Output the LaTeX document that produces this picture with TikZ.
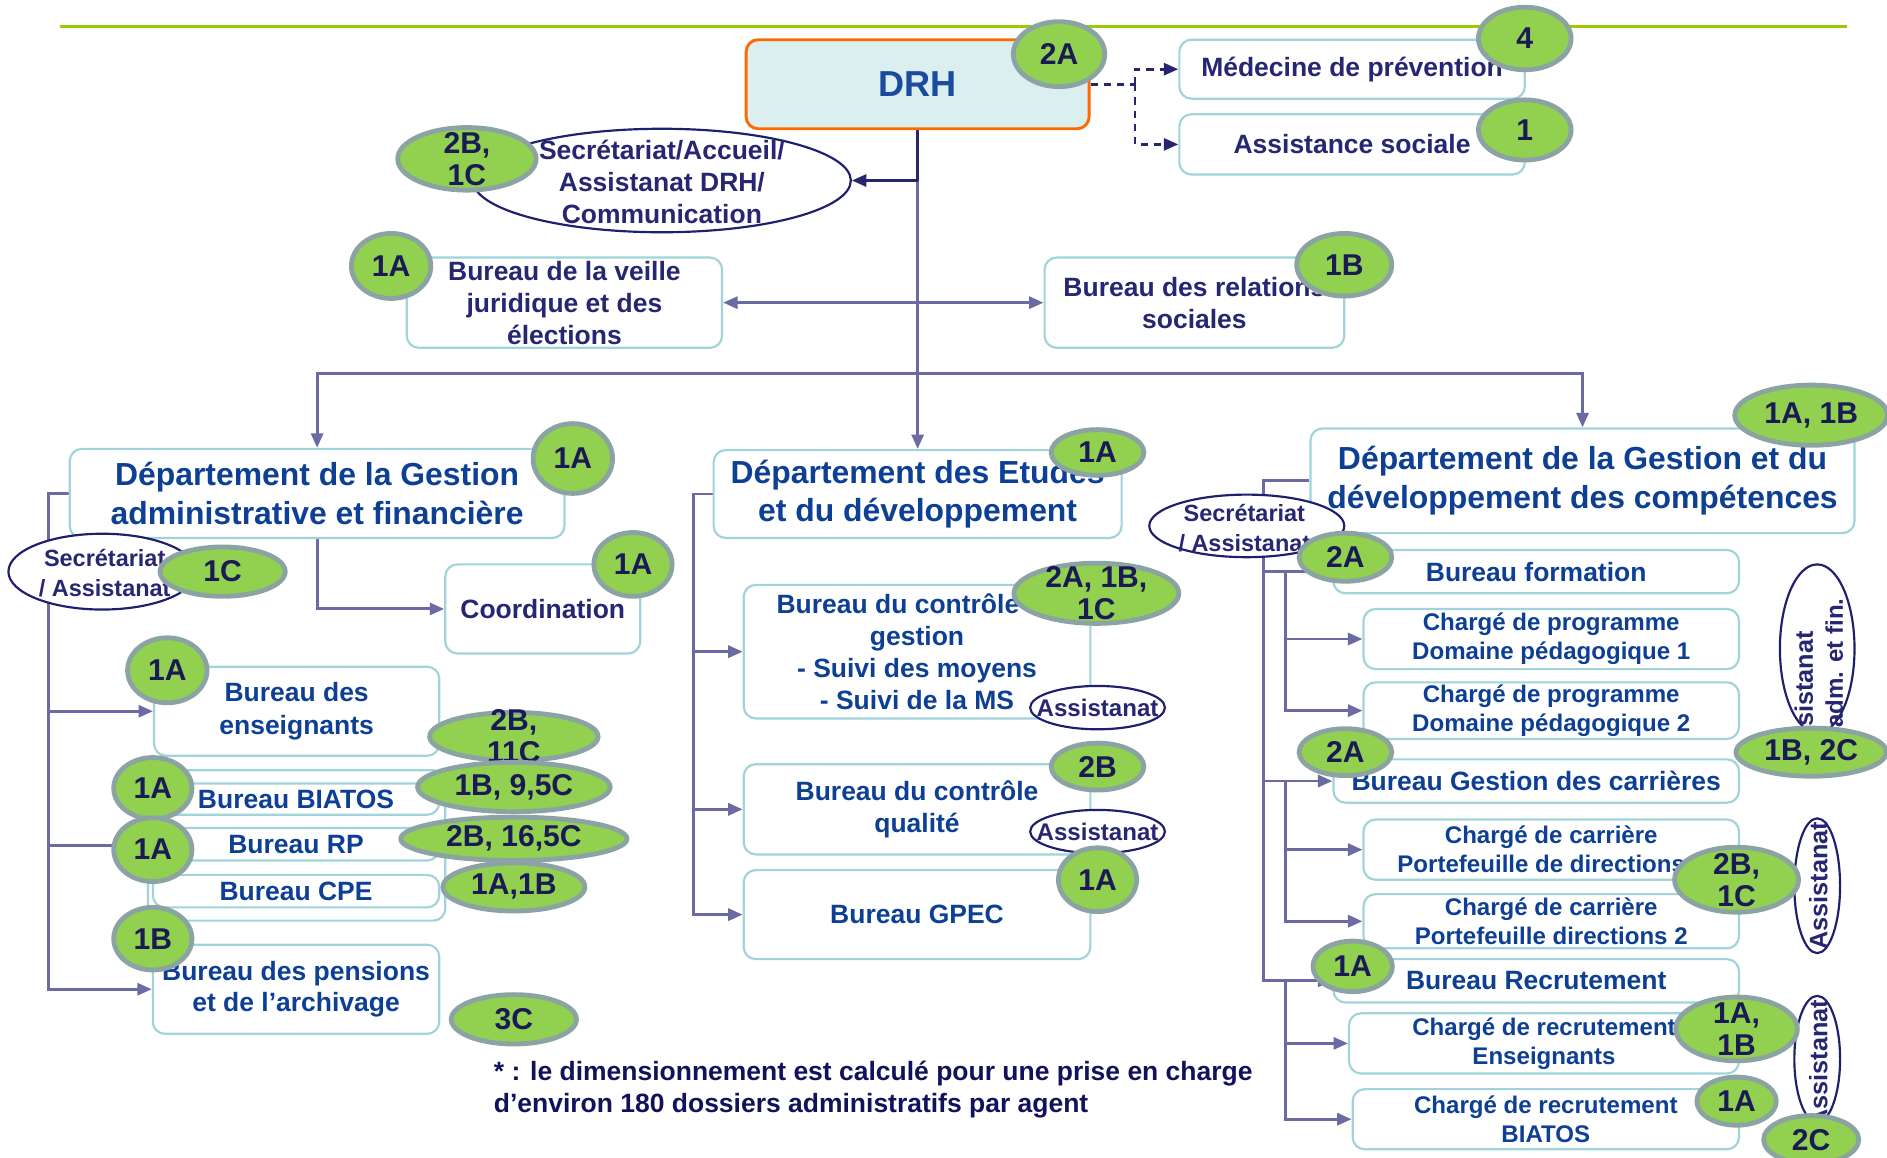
\documentclass[tikz,border=0pt]{standalone}
\usepackage{fontspec}
\setmainfont{Liberation Sans}
\usetikzlibrary{shapes.geometric,arrows.meta,backgrounds}

\definecolor{topgreen}{HTML}{99CC00}
\definecolor{boxline}{HTML}{A0D4DA}
\definecolor{drhfill}{HTML}{DBEEF0}
\definecolor{drhline}{HTML}{FF6A00}
\definecolor{drhtxt}{HTML}{1A4B9F}
\definecolor{navytxt}{HTML}{262673}
\definecolor{bluetxt}{HTML}{0D3F94}
\definecolor{notetxt}{HTML}{12125C}
\definecolor{connc}{HTML}{6C6AA3}
\definecolor{darkc}{HTML}{26266E}
\definecolor{ovalline}{HTML}{1F1F70}
\definecolor{badgefill}{HTML}{92D050}
\definecolor{badgeline}{HTML}{8CA3A3}
\definecolor{badgetxt}{HTML}{1A1A55}

% green grade badge: ellipse plus its label
\newcommand\bdg[5]{%
  \node[badge, minimum width=#3pt, minimum height=#4pt] (#1) at (#2) {};
  \node[btxt] (#1t) at (#2) {#5};}

\begin{document}
\begin{tikzpicture}[x=0.5pt, y=-0.5pt,
  box/.style={rectangle, rounded corners=5pt, draw=boxline, line width=0.9pt,
    fill=white, inner sep=0pt, align=center, text=bluetxt,
    font=\bfseries\fontsize{11}{13.3}\selectfont},
  navybox/.style={box, text=navytxt},
  dept/.style={box, font=\bfseries\fontsize{13.25}{16}\selectfont},
  small/.style={font=\bfseries\fontsize{10}{12}\selectfont},
  oval/.style={ellipse, draw=ovalline, line width=0.9pt, fill=white, inner sep=0pt},
  otxt/.style={text=navytxt, align=center, inner sep=0pt,
    font=\bfseries\fontsize{9.75}{12.5}\selectfont},
  badge/.style={ellipse, draw=badgeline, line width=2pt, fill=badgefill, inner sep=0pt},
  btxt/.style={text=badgetxt, align=center, inner sep=0pt,
    font=\bfseries\fontsize{12.5}{13.3}\selectfont},
  conn/.style={draw=connc, line width=1.2pt},
  dark/.style={draw=darkc, line width=1.1pt},
  arr/.style={-{Triangle[length=6pt,width=5pt]}},
  arrboth/.style={{Triangle[length=6pt,width=5pt]}-{Triangle[length=6pt,width=5pt]}},
  dashline/.style={dash pattern=on 3pt off 2.5pt}
]
\useasboundingbox (0,0) rectangle (1568,962);

% top rule
\draw[topgreen, line width=1.6pt] (50,22) -- (1535,22);

% ---------- direction ----------
\node[box, draw=drhline, fill=drhfill, line width=1.2pt, minimum width=142.5pt,
  minimum height=37pt, text=drhtxt, font=\bfseries\fontsize{15}{18}\selectfont]
  (drh) at (762.5,70) {DRH};
\node[navybox, minimum width=143.5pt, minimum height=24.5pt] (med) at (1123.5,57.5) {Médecine de prévention};
\node[navybox, minimum width=143.5pt, minimum height=25pt] (assoc) at (1123.5,120) {Assistance sociale};

\node[oval, minimum width=157pt, minimum height=43pt] (secr) at (550,150) {};
\node[otxt, font=\bfseries\fontsize{11}{13.25}\selectfont] (secrt) at (550,151)
  {Secrétariat/Accueil/\\Assistanat DRH/\\Communication};

\node[navybox, minimum width=131pt, minimum height=37.5pt] (veille) at (469,251.5)
  {Bureau de la veille\\juridique et des\\élections};
\node[navybox, minimum width=124.5pt, minimum height=37.5pt] (relsoc) at (992.5,251.5)
  {Bureau des relations\\sociales};

% ---------- departments ----------
\node[dept, minimum width=205.5pt, minimum height=37pt] (dep1) at (263.5,410)
  {Département de la Gestion\\administrative et financière};
\node[dept, minimum width=169.5pt, minimum height=36.5pt] (dep2) at (762.5,410.5)
  {Département des Etudes\\et du développement};
\node[dept, minimum width=226pt, minimum height=43.5pt] (dep3) at (1315,399.5)
  {Département de la Gestion et du\\développement des compétences};

% ---------- administrative and financial department ----------
\node[navybox, minimum width=81pt, minimum height=37pt] (coord) at (451,506) {Coordination};
\node[box, minimum width=118.5pt, minimum height=37pt, font=\bfseries\fontsize{11}{13.5}\selectfont]
  (enseig) at (246.5,591) {Bureau des\\enseignants};
\node[box, minimum width=123.5pt, minimum height=62.5pt] (grp) at (246.5,702.5) {};
\node[box, minimum width=119pt, minimum height=13pt] (biatos) at (246,664) {Bureau BIATOS};
\node[box, minimum width=119pt, minimum height=13.5pt] (rp) at (246,701.5) {Bureau RP};
\node[box, minimum width=119pt, minimum height=13.5pt] (cpe) at (246,740.5) {Bureau CPE};
\node[box, minimum width=119pt, minimum height=37pt, font=\bfseries\fontsize{11}{12.5}\selectfont]
  (pens) at (246,822) {Bureau des pensions\\et de l’archivage};
\node[oval, minimum width=78pt, minimum height=31.5pt] (sec1) at (85,475) {};
\node[otxt] (sec1t) at (87,476) {Secrétariat\\/ Assistanat};

% ---------- studies department ----------
\node[box, minimum width=144pt, minimum height=55.5pt] (ctrlg) at (762,541.5)
  {Bureau du contrôle de\\gestion\\- Suivi des moyens\\- Suivi de la MS};
\node[box, minimum width=144pt, minimum height=37.5pt] (ctrlq) at (762,672.5)
  {Bureau du contrôle\\qualité};
\node[box, minimum width=144pt, minimum height=37pt] (gpec) at (762,760) {Bureau GPEC};
\node[oval, minimum width=56pt, minimum height=18pt] (as1) at (912,588) {};
\node[otxt, font=\bfseries\fontsize{10}{12}\selectfont] (as1t) at (912,588.5) {Assistanat};
\node[oval, minimum width=56pt, minimum height=18pt] (as2) at (912,691) {};
\node[otxt, font=\bfseries\fontsize{10}{12}\selectfont] (as2t) at (912,691.5) {Assistanat};

% ---------- skills department ----------
\node[box, minimum width=168.5pt, minimum height=18pt] (bform) at (1276.5,475) {Bureau formation};
\node[box, small, minimum width=156pt, minimum height=25pt] (cp1) at (1289,531)
  {Chargé de programme\\Domaine pédagogique 1};
\node[box, small, minimum width=156pt, minimum height=23.5pt] (cp2) at (1289,590.5)
  {Chargé de programme\\Domaine pédagogique 2};
\node[box, minimum width=168.5pt, minimum height=18pt] (bgc) at (1276.5,649) {Bureau Gestion des carrières};
\node[box, small, minimum width=156pt, minimum height=25pt] (cc1) at (1289,706)
  {Chargé de carrière\\Portefeuille de directions 1};
\node[box, small, minimum width=156pt, minimum height=22.5pt] (cc2) at (1289,765.5)
  {Chargé de carrière\\Portefeuille directions 2};
\node[box, minimum width=168.5pt, minimum height=18pt] (brec) at (1276.5,815) {Bureau Recrutement};
\node[box, small, minimum width=162pt, minimum height=25pt] (cr1) at (1283,867)
  {Chargé de recrutement\\Enseignants};
\node[box, small, minimum width=160.5pt, minimum height=25pt] (cr2) at (1284.5,930)
  {Chargé de recrutement\\BIATOS};
\node[oval, minimum width=81pt, minimum height=26pt] (sec3) at (1036,437) {};
\node[otxt] (sec3t) at (1034,438.5) {Secrétariat\\/ Assistanat};

% vertical assistance ovals
\node[oval, minimum width=31pt, minimum height=70pt] (va) at (1510,539) {};
\node[otxt, rotate=90, anchor=south east, font=\bfseries\fontsize{10.5}{12}\selectfont]
  (vat) at (1507,524) {Assistanat};
\node[otxt, rotate=90, anchor=south east, font=\bfseries\fontsize{10}{12}\selectfont]
  (vau) at (1532,497) {adm. et fin.};
\node[oval, minimum width=19pt, minimum height=56pt] (vb) at (1510,736) {};
\node[otxt, rotate=90, font=\bfseries\fontsize{10.5}{12}\selectfont] (vbt) at (1511,736) {Assistanat};
\node[oval, minimum width=19pt, minimum height=52.5pt] (vc) at (1510,880) {};
\node[otxt, rotate=90, font=\bfseries\fontsize{10.5}{12}\selectfont] (vct) at (1511,884) {Assistanat};

% footnote
\node[anchor=west, align=left, inner sep=0pt, text=notetxt,
  font=\bfseries\fontsize{11}{13.5}\selectfont] (note) at (410,905.5)
  {* : le dimensionnement est calculé pour une prise en charge\\d’environ 180 dossiers administratifs par agent};

% ---------- connectors ----------
\begin{scope}[on background layer]
\fill[white] (0,0) rectangle (1568,962);
\coordinate (dj) at (943,70);
\draw[dark, dashline] (drh.east) -- (dj);
\draw[dark, dashline, arr] (dj) |- (med.west);
\draw[dark, dashline, arr] (dj) |- (assoc.west);

\coordinate (tsec) at (762.5,150);
\coordinate (hub) at (762.5,310);
\draw[dark] (drh.south) -- (tsec);
\draw[conn] (tsec) -- (hub);
\draw[dark, arr] (tsec) -- (secr.east);
\draw[conn, arrboth] (veille.east) -- (relsoc.west);
\draw[conn, arr] (hub) -| (dep1.north);
\draw[conn, arr] (hub) -- (dep2.north);
\draw[conn, arr] (hub) -| (dep3.north);

\coordinate (r1) at (40,410);
\draw[conn, arr] (dep1.west) -- (r1) |- (pens.west);
\draw[conn, arr] (r1 |- enseig.west) -- (enseig.west);
\draw[conn] (r1 |- grp.west) -- (grp.west);
\draw[conn, arr] (dep1.south) |- (coord.west);

\coordinate (r2) at (576,410.5);
\draw[conn, arr] (dep2.west) -- (r2) |- (gpec.west);
\draw[conn, arr] (r2 |- ctrlg.west) -- (ctrlg.west);
\draw[conn, arr] (r2 |- ctrlq.west) -- (ctrlq.west);

\coordinate (r3) at (1050,399.5);
\draw[conn, arr] (dep3.west) -- (r3) |- (brec.west);
\draw[conn, arr] (r3 |- bform.west) -- (bform.west);
\draw[conn, arr] (r3 |- bgc.west) -- (bgc.west);
\coordinate (i1) at (1068,475);
\draw[conn, arr] (i1) |- (cp2.west);
\draw[conn, arr] (i1 |- cp1.west) -- (cp1.west);
\coordinate (i2) at (1068,649);
\draw[conn, arr] (i2) |- (cc2.west);
\draw[conn, arr] (i2 |- cc1.west) -- (cc1.west);
\coordinate (i3) at (1068,815);
\draw[conn, arr] (i3) |- (cr2.west);
\draw[conn, arr] (i3 |- cr1.west) -- (cr1.west);
\end{scope}

% ---------- grade badges ----------
\bdg{bdrh}{880,45}{38}{27}{2A}
\bdg{bmed}{1267,32}{38.5}{26}{4}
\bdg{bass}{1267,108}{38.5}{25}{1}
\bdg{bsecr}{388,132}{57.5}{26}{2B,\\1C}
\bdg{bveil}{325,221}{33}{27}{1A}
\bdg{brel}{1117,220}{39.5}{26}{1B}
\bdg{bdepa}{476,381}{33}{29}{1A}
\bdg{bseca}{185,475}{52}{20.5}{1C}
\bdg{bcoord}{526,469}{32.5}{26.5}{1A}
\bdg{bens}{139,557}{33}{27}{1A}
\bdg{bensb}{427,612}{70}{20}{2B,\\11C}
\bdg{bbia}{127,655}{32.5}{25.5}{1A}
\bdg{bbiab}{427,654}{80}{20.5}{1B, 9,5C}
\bdg{brp}{127,706}{32.5}{26.5}{1A}
\bdg{brpb}{427,697}{94}{18}{2B, 16,5C}
\bdg{bcpe}{427,737}{59}{20}{1A,1B}
\bdg{bpen}{127,780}{32.5}{26}{1B}
\bdg{bpenb}{427,847}{52}{20.5}{3C}
\bdg{bdepb}{912,376}{38.5}{19}{1A}
\bdg{bctg}{911,493}{68.5}{25}{2A, 1B,\\1C}
\bdg{bctq}{912,637}{38.5}{19.5}{2B}
\bdg{bgpec}{912,731}{32.5}{26.5}{1A}
\bdg{bdepc}{1505,345}{63.5}{25}{1A, 1B}
\bdg{bform}{1118,463}{38.5}{20}{2A}
\bdg{bgcb}{1118,625}{38.5}{19.5}{2A}
\bdg{brecb}{1124,803}{33}{21}{1A}
\bdg{bva}{1505,625}{62.5}{20}{1B, 2C}
\bdg{bcc}{1443,731}{51.5}{27}{2B,\\1C}
\bdg{bcra}{1443,855}{50.5}{26.5}{1A,\\1B}
\bdg{bcrb}{1443,915}{33}{20}{1A}
\bdg{bvc}{1505,947}{39.5}{20}{2C}
\end{tikzpicture}
\end{document}
